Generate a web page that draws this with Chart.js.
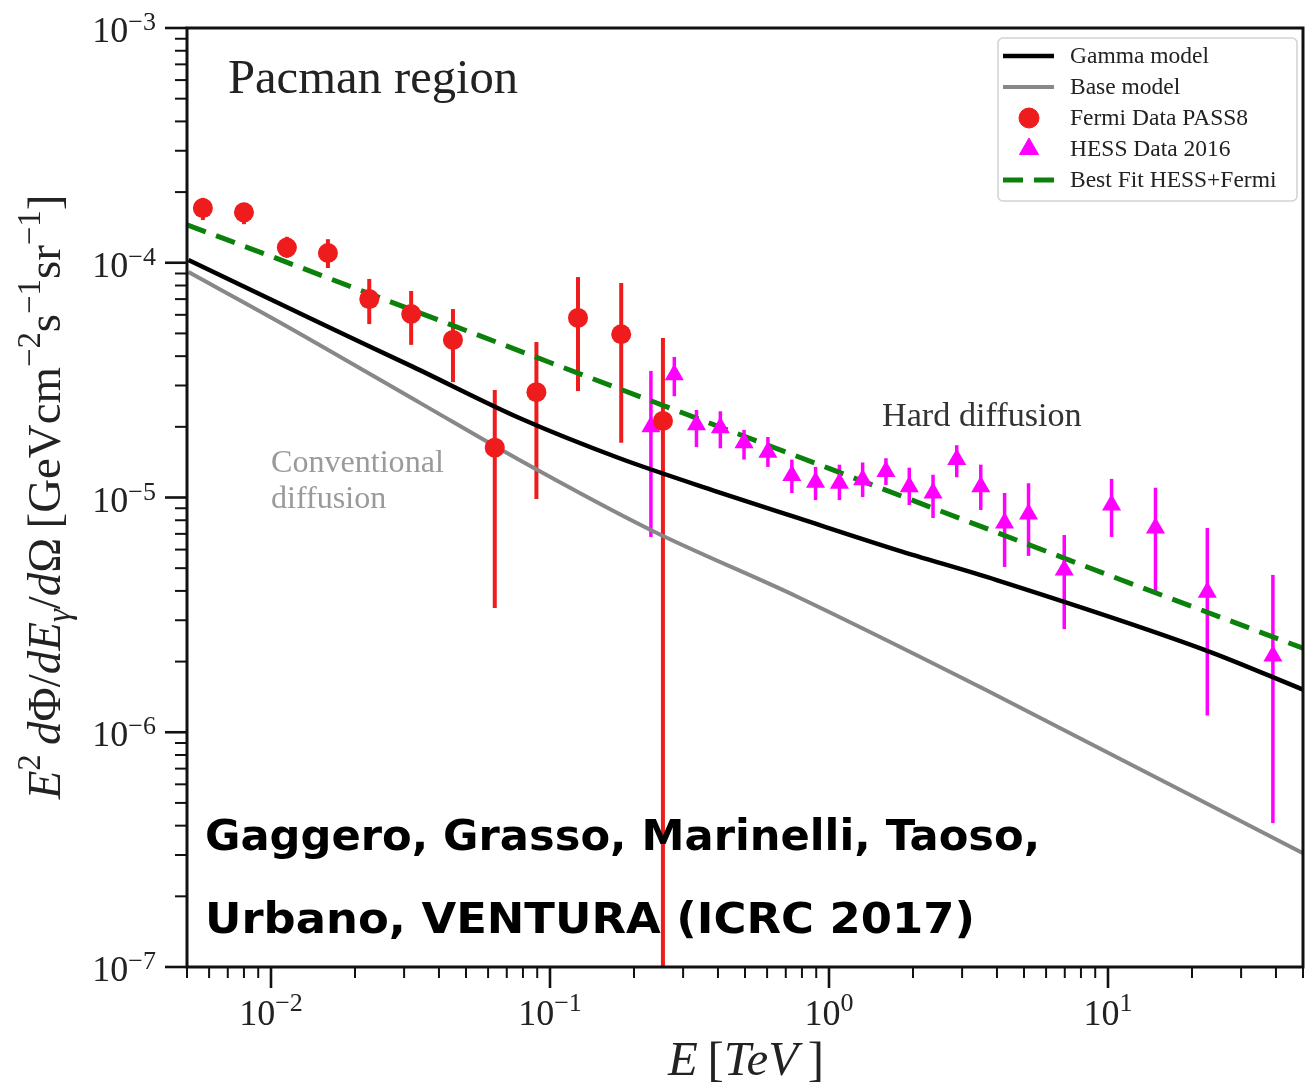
<!DOCTYPE html>
<html>
<head>
<meta charset="utf-8">
<script src="https://cdn.jsdelivr.net/npm/chart.js@4.4.1/dist/chart.umd.min.js"></script>
<style>
  html, body { margin: 0; padding: 0; background: #fff; }
  #wrap { width: 1314px; height: 1084px; position: relative; }
</style>
</head>
<body>
<div id="wrap"><canvas id="pacmanChart"></canvas></div>
<script>
// ---- data (E in TeV, flux in GeV cm^-2 s^-1 sr^-1) ----
const fermiE    = [0.0057, 0.0080, 0.0114, 0.0160, 0.0225, 0.0318, 0.0449, 0.0634, 0.0894, 0.126, 0.180, 0.254];
const fermiFlux = [1.71e-4, 1.64e-4, 1.16e-4, 1.10e-4, 7.0e-5, 6.05e-5, 4.69e-5, 1.63e-5, 2.81e-5, 5.82e-5, 4.96e-5, 2.12e-5];
const fermiHi   = [1.89e-4, 1.80e-4, 1.29e-4, 1.26e-4, 8.53e-5, 7.58e-5, 6.35e-5, 2.87e-5, 4.60e-5, 8.69e-5, 8.2e-5, 4.78e-5];
const fermiLo   = [1.52e-4, 1.46e-4, 1.05e-4, 9.5e-5, 5.48e-5, 4.47e-5, 3.10e-5, 3.38e-6, 9.86e-6, 2.84e-5, 1.71e-5, 1e-8];

const hessE    = [0.230, 0.279, 0.335, 0.408, 0.496, 0.604, 0.736, 0.895, 1.09, 1.32, 1.60, 1.94, 2.36, 2.87, 3.50, 4.26, 5.19, 6.97, 10.3, 14.8, 22.7, 39.0];
const hessFlux = [2.00e-5, 3.33e-5, 2.04e-5, 1.98e-5, 1.71e-5, 1.56e-5, 1.24e-5, 1.16e-5, 1.15e-5, 1.19e-5, 1.29e-5, 1.11e-5, 1.045e-5, 1.45e-5, 1.11e-5, 7.78e-6, 8.5e-6, 4.91e-6, 9.29e-6, 7.41e-6, 3.95e-6, 2.11e-6];
const hessHi   = [3.46e-5, 3.97e-5, 2.36e-5, 2.33e-5, 1.94e-5, 1.81e-5, 1.45e-5, 1.35e-5, 1.38e-5, 1.41e-5, 1.47e-5, 1.34e-5, 1.25e-5, 1.67e-5, 1.38e-5, 1.045e-5, 1.15e-5, 6.92e-6, 1.20e-5, 1.10e-5, 7.41e-6, 4.68e-6];
const hessLo   = [6.79e-6, 2.70e-5, 1.64e-5, 1.62e-5, 1.45e-5, 1.35e-5, 1.045e-5, 9.75e-6, 9.75e-6, 1.005e-5, 1.13e-5, 9.29e-6, 8.18e-6, 1.22e-5, 8.85e-6, 5.06e-6, 5.64e-6, 2.75e-6, 6.79e-6, 3.92e-6, 1.18e-6, 4.1e-7];

const gammaE    = [0.00506, 0.01423, 0.0323, 0.0777, 0.1765, 0.401, 0.773, 1.755, 3.99, 22.3, 50];
const gammaFlux = [1.027e-4, 5.70e-5, 3.60e-5, 2.18e-5, 1.473e-5, 1.055e-5, 8.18e-6, 5.97e-6, 4.45e-6, 2.24e-6, 1.52e-6];

const baseE    = [0.00506, 0.01085, 0.0342, 0.0777, 0.2296, 0.773, 3.67, 50];
const baseFlux = [9.13e-5, 5.54e-5, 2.53e-5, 1.444e-5, 7.27e-6, 3.77e-6, 1.51e-6, 3.05e-7];

const fitE    = [0.005, 0.01, 0.1, 1, 10, 50];
const fitFlux = [1.45e-4, 1.066e-4, 3.76e-5, 1.33e-5, 4.68e-6, 2.28e-6];

// axis ticks
const xMajor = [0.01, 0.1, 1, 10];
const xMajorExp = ['\u22122', '\u22121', '0', '1'];
const yMajor = [1e-7, 1e-6, 1e-5, 1e-4, 1e-3];
const yMajorExp = ['\u22127', '\u22126', '\u22125', '\u22124', '\u22123'];
const minorMantissa = [2, 3, 4, 5, 6, 7, 8, 9];
//End of data section

const RED = '#ee1c1c';
const MAGENTA = '#ff00ff';
const GREEN = '#0b800b';
const SERIF = '"Liberation Serif", "DejaVu Serif", serif';

function toXY(xs, ys) { return xs.map((x, i) => ({ x: x, y: ys[i] })); }

function minorTicks(lo, hi) {
  const out = [];
  for (let e = Math.floor(Math.log10(lo)); e <= Math.ceil(Math.log10(hi)); e++) {
    minorMantissa.forEach(m => {
      const v = m * Math.pow(10, e);
      if (v >= lo * 0.999 && v <= hi * 1.001) out.push(v);
    });
  }
  return out;
}

// rich text: parts = [{t, it, sup, sub}]
function partFont(p, size) {
  const s = (p.sup || p.sub) ? size * 0.7 : size;
  return (p.it ? 'italic ' : '') + s.toFixed(1) + 'px ' + SERIF;
}
function richWidth(ctx, parts, size) {
  let w = 0;
  parts.forEach(p => { ctx.font = partFont(p, size); w += ctx.measureText(p.t).width; });
  return w;
}
function drawRich(ctx, parts, x, y, size) {
  let cx = x;
  parts.forEach(p => {
    ctx.font = partFont(p, size);
    const dy = p.sup ? -size * 0.42 : (p.sub ? size * 0.22 : 0);
    ctx.fillText(p.t, cx, y + dy);
    cx += ctx.measureText(p.t).width;
  });
}
function fitSize(ctx, text, fontFn, target) {
  ctx.font = fontFn(100);
  return 100 * target / ctx.measureText(text).width;
}

// error bars, drawn under the markers
const errorBarPlugin = {
  id: 'errorBars',
  beforeDatasetsDraw(chart) {
    const ctx = chart.ctx, xs = chart.scales.x, ys = chart.scales.y, a = chart.chartArea;
    ctx.save();
    ctx.beginPath();
    ctx.rect(a.left, a.top, a.right - a.left, a.bottom - a.top);
    ctx.clip();
    const bars = (E, hi, lo, color, w) => {
      ctx.strokeStyle = color;
      ctx.lineWidth = w;
      E.forEach((e, i) => {
        const px = xs.getPixelForValue(e);
        ctx.beginPath();
        ctx.moveTo(px, ys.getPixelForValue(hi[i]));
        ctx.lineTo(px, ys.getPixelForValue(lo[i]));
        ctx.stroke();
      });
    };
    bars(fermiE, fermiHi, fermiLo, RED, 4);
    bars(hessE, hessHi, hessLo, MAGENTA, 3.5);
    ctx.restore();
  }
};

// frame, ticks, tick labels, titles, legend and notes
const decorPlugin = {
  id: 'decor',
  afterDraw(chart) {
    const ctx = chart.ctx, xs = chart.scales.x, ys = chart.scales.y, a = chart.chartArea;
    ctx.save();
    ctx.strokeStyle = '#111';
    ctx.lineCap = 'butt';

    // ticks (left and bottom only, outward)
    const tick = (x1, y1, x2, y2, w) => {
      ctx.lineWidth = w;
      ctx.beginPath(); ctx.moveTo(x1, y1); ctx.lineTo(x2, y2); ctx.stroke();
    };
    yMajor.forEach(v => { const py = ys.getPixelForValue(v); tick(a.left - 22, py, a.left, py, 2.6); });
    minorTicks(1e-7, 1e-3).forEach(v => { const py = ys.getPixelForValue(v); tick(a.left - 12, py, a.left, py, 2); });
    xMajor.forEach(v => { const px = xs.getPixelForValue(v); tick(px, a.bottom, px, a.bottom + 21, 2.6); });
    minorTicks(0.005, 50).forEach(v => { const px = xs.getPixelForValue(v); tick(px, a.bottom, px, a.bottom + 11, 2); });

    // frame
    ctx.lineWidth = 3;
    ctx.strokeRect(a.left, a.top, a.right - a.left, a.bottom - a.top);

    // tick labels
    ctx.fillStyle = '#222';
    ctx.textBaseline = 'alphabetic';
    const baseSize = 36, expSize = 26;
    yMajor.forEach((v, i) => {
      const py = ys.getPixelForValue(v);
      ctx.font = expSize + 'px ' + SERIF;
      const ew = ctx.measureText(yMajorExp[i]).width;
      ctx.font = baseSize + 'px ' + SERIF;
      const bw = ctx.measureText('10').width;
      const right = 156;
      ctx.textAlign = 'left';
      ctx.fillText('10', right - ew - bw, py + 14);
      ctx.font = expSize + 'px ' + SERIF;
      ctx.fillText(yMajorExp[i], right - ew, py + 2);
    });
    xMajor.forEach((v, i) => {
      const px = xs.getPixelForValue(v);
      ctx.font = expSize + 'px ' + SERIF;
      const ew = ctx.measureText(xMajorExp[i]).width;
      ctx.font = baseSize + 'px ' + SERIF;
      const bw = ctx.measureText('10').width;
      const left = px - (ew + bw) / 2;
      ctx.textAlign = 'left';
      ctx.fillText('10', left, 1025);
      ctx.font = expSize + 'px ' + SERIF;
      ctx.fillText(xMajorExp[i], left + bw, 1011);
    });

    // x title: E [TeV]
    const xTitle = [{ t: 'E', it: true }, { t: '\u2009[' }, { t: 'TeV', it: true }, { t: '\u2009]' }];
    let s = 40;
    s = s * 156 / richWidth(ctx, xTitle, s);
    drawRich(ctx, xTitle, 746 - richWidth(ctx, xTitle, s) / 2, 1075, s);

    // y title
    const yTitle = [
      { t: 'E', it: true }, { t: '2', sup: true }, { t: '\u2009d', it: true }, { t: '\u03A6/' },
      { t: 'dE', it: true }, { t: '\u03B3', it: true, sub: true }, { t: '/' }, { t: 'd', it: true },
      { t: '\u03A9\u2009[GeVcm' }, { t: '\u22122', sup: true }, { t: 's' }, { t: '\u22121', sup: true },
      { t: 'sr' }, { t: '\u22121', sup: true }, { t: ']' }
    ];
    s = 36;
    s = s * 605 / richWidth(ctx, yTitle, s);
    ctx.save();
    ctx.translate(60, 497);
    ctx.rotate(-Math.PI / 2);
    drawRich(ctx, yTitle, -richWidth(ctx, yTitle, s) / 2, 0, s);
    ctx.restore();

    // in-plot labels
    const serifFn = sz => sz.toFixed(1) + 'px ' + SERIF;
    ctx.fillStyle = '#222';
    let fs = fitSize(ctx, 'Pacman region', serifFn, 290);
    ctx.font = serifFn(fs);
    ctx.fillText('Pacman region', 228, 93);

    ctx.fillStyle = '#333';
    fs = fitSize(ctx, 'Hard diffusion', serifFn, 200);
    ctx.font = serifFn(fs);
    ctx.fillText('Hard diffusion', 882, 426);

    ctx.fillStyle = '#9a9a9a';
    fs = fitSize(ctx, 'Conventional', serifFn, 173);
    ctx.font = serifFn(fs);
    ctx.fillText('Conventional', 271, 472);
    ctx.fillText('diffusion', 271, 508);

    // legend
    const lx = 998, ly = 38, lw = 299, lh = 163;
    ctx.fillStyle = 'rgba(255,255,255,0.85)';
    ctx.strokeStyle = '#d2d2d2';
    ctx.lineWidth = 1.5;
    ctx.beginPath();
    ctx.roundRect(lx, ly, lw, lh, 5);
    ctx.fill();
    ctx.stroke();
    const rows = [56, 87, 118, 149, 180];
    const ds = chart.data.datasets;
    const legendOrder = [0, 1, 3, 4, 2];
    legendOrder.forEach((di, r) => {
      const d = ds[di], y = rows[r];
      ctx.save();
      if (d.showLine === false) {
        const pointOpts = { pointStyle: d.pointStyle, radius: d.pointRadius, borderWidth: 1, rotation: 0 };
        ctx.fillStyle = d.backgroundColor;
        ctx.strokeStyle = d.borderColor;
        ctx.lineWidth = 1;
        Chart.helpers.drawPoint(ctx, pointOpts, 1029, y);
      } else {
        ctx.strokeStyle = d.borderColor;
        ctx.lineWidth = d.borderWidth;
        ctx.setLineDash(d.borderDash || []);
        ctx.beginPath();
        ctx.moveTo(1003, y);
        ctx.lineTo(1054, y);
        ctx.stroke();
      }
      ctx.restore();
      ctx.fillStyle = '#222';
      ctx.font = '23.5px ' + SERIF;
      ctx.textAlign = 'left';
      ctx.fillText(d.label, 1070, y + 7);
    });

    // credit note
    const boldFn = sz => 'bold ' + sz.toFixed(1) + 'px "DejaVu Sans", sans-serif';
    const note1 = 'Gaggero, Grasso, Marinelli, Taoso,';
    const note2 = 'Urbano, VENTURA (ICRC 2017)';
    fs = fitSize(ctx, note1, boldFn, 835);
    ctx.fillStyle = '#000';
    ctx.font = boldFn(fs);
    ctx.fillText(note1, 205, 850);
    const w2 = ctx.measureText(note2).width;
    ctx.save();
    ctx.translate(205, 933);
    ctx.scale(770 / w2, 1);
    ctx.fillText(note2, 0, 0);
    ctx.restore();
    ctx.restore();
  }
};

new Chart('pacmanChart', {
  type: 'line',
  data: {
    datasets: [
      {
        label: 'Gamma model',
        data: toXY(gammaE, gammaFlux),
        borderColor: '#000',
        borderWidth: 4.5,
        pointRadius: 0,
        cubicInterpolationMode: 'monotone',
        order: 4
      },
      {
        label: 'Base model',
        data: toXY(baseE, baseFlux),
        borderColor: '#888888',
        borderWidth: 4,
        pointRadius: 0,
        cubicInterpolationMode: 'monotone',
        order: 5
      },
      {
        label: 'Best Fit HESS+Fermi',
        data: toXY(fitE, fitFlux),
        borderColor: GREEN,
        borderWidth: 5,
        borderDash: [20, 11],
        pointRadius: 0,
        order: 3
      },
      {
        label: 'Fermi Data PASS8',
        data: toXY(fermiE, fermiFlux),
        showLine: false,
        pointStyle: 'circle',
        pointRadius: 10,
        backgroundColor: RED,
        borderColor: RED,
        borderWidth: 0,
        order: 1
      },
      {
        label: 'HESS Data 2016',
        data: toXY(hessE, hessFlux),
        showLine: false,
        pointStyle: 'triangle',
        pointRadius: 11,
        backgroundColor: MAGENTA,
        borderColor: MAGENTA,
        borderWidth: 0,
        order: 2
      }
    ]
  },
  options: {
    responsive: true,
    maintainAspectRatio: false,
    animation: false,
    events: [],
    layout: { padding: { top: 28, right: 7, left: 0, bottom: 0 } },
    plugins: { legend: { display: false }, tooltip: { enabled: false } },
    scales: {
      x: {
        type: 'logarithmic', min: 0.005, max: 50,
        grid: { display: false }, border: { display: false }, ticks: { display: false },
        afterFit: s => { s.height = 117; }
      },
      y: {
        type: 'logarithmic', min: 1e-7, max: 1e-3,
        grid: { display: false }, border: { display: false }, ticks: { display: false },
        afterFit: s => { s.width = 187; }
      }
    }
  },
  plugins: [errorBarPlugin, decorPlugin]
});
</script>
</body>
</html>
